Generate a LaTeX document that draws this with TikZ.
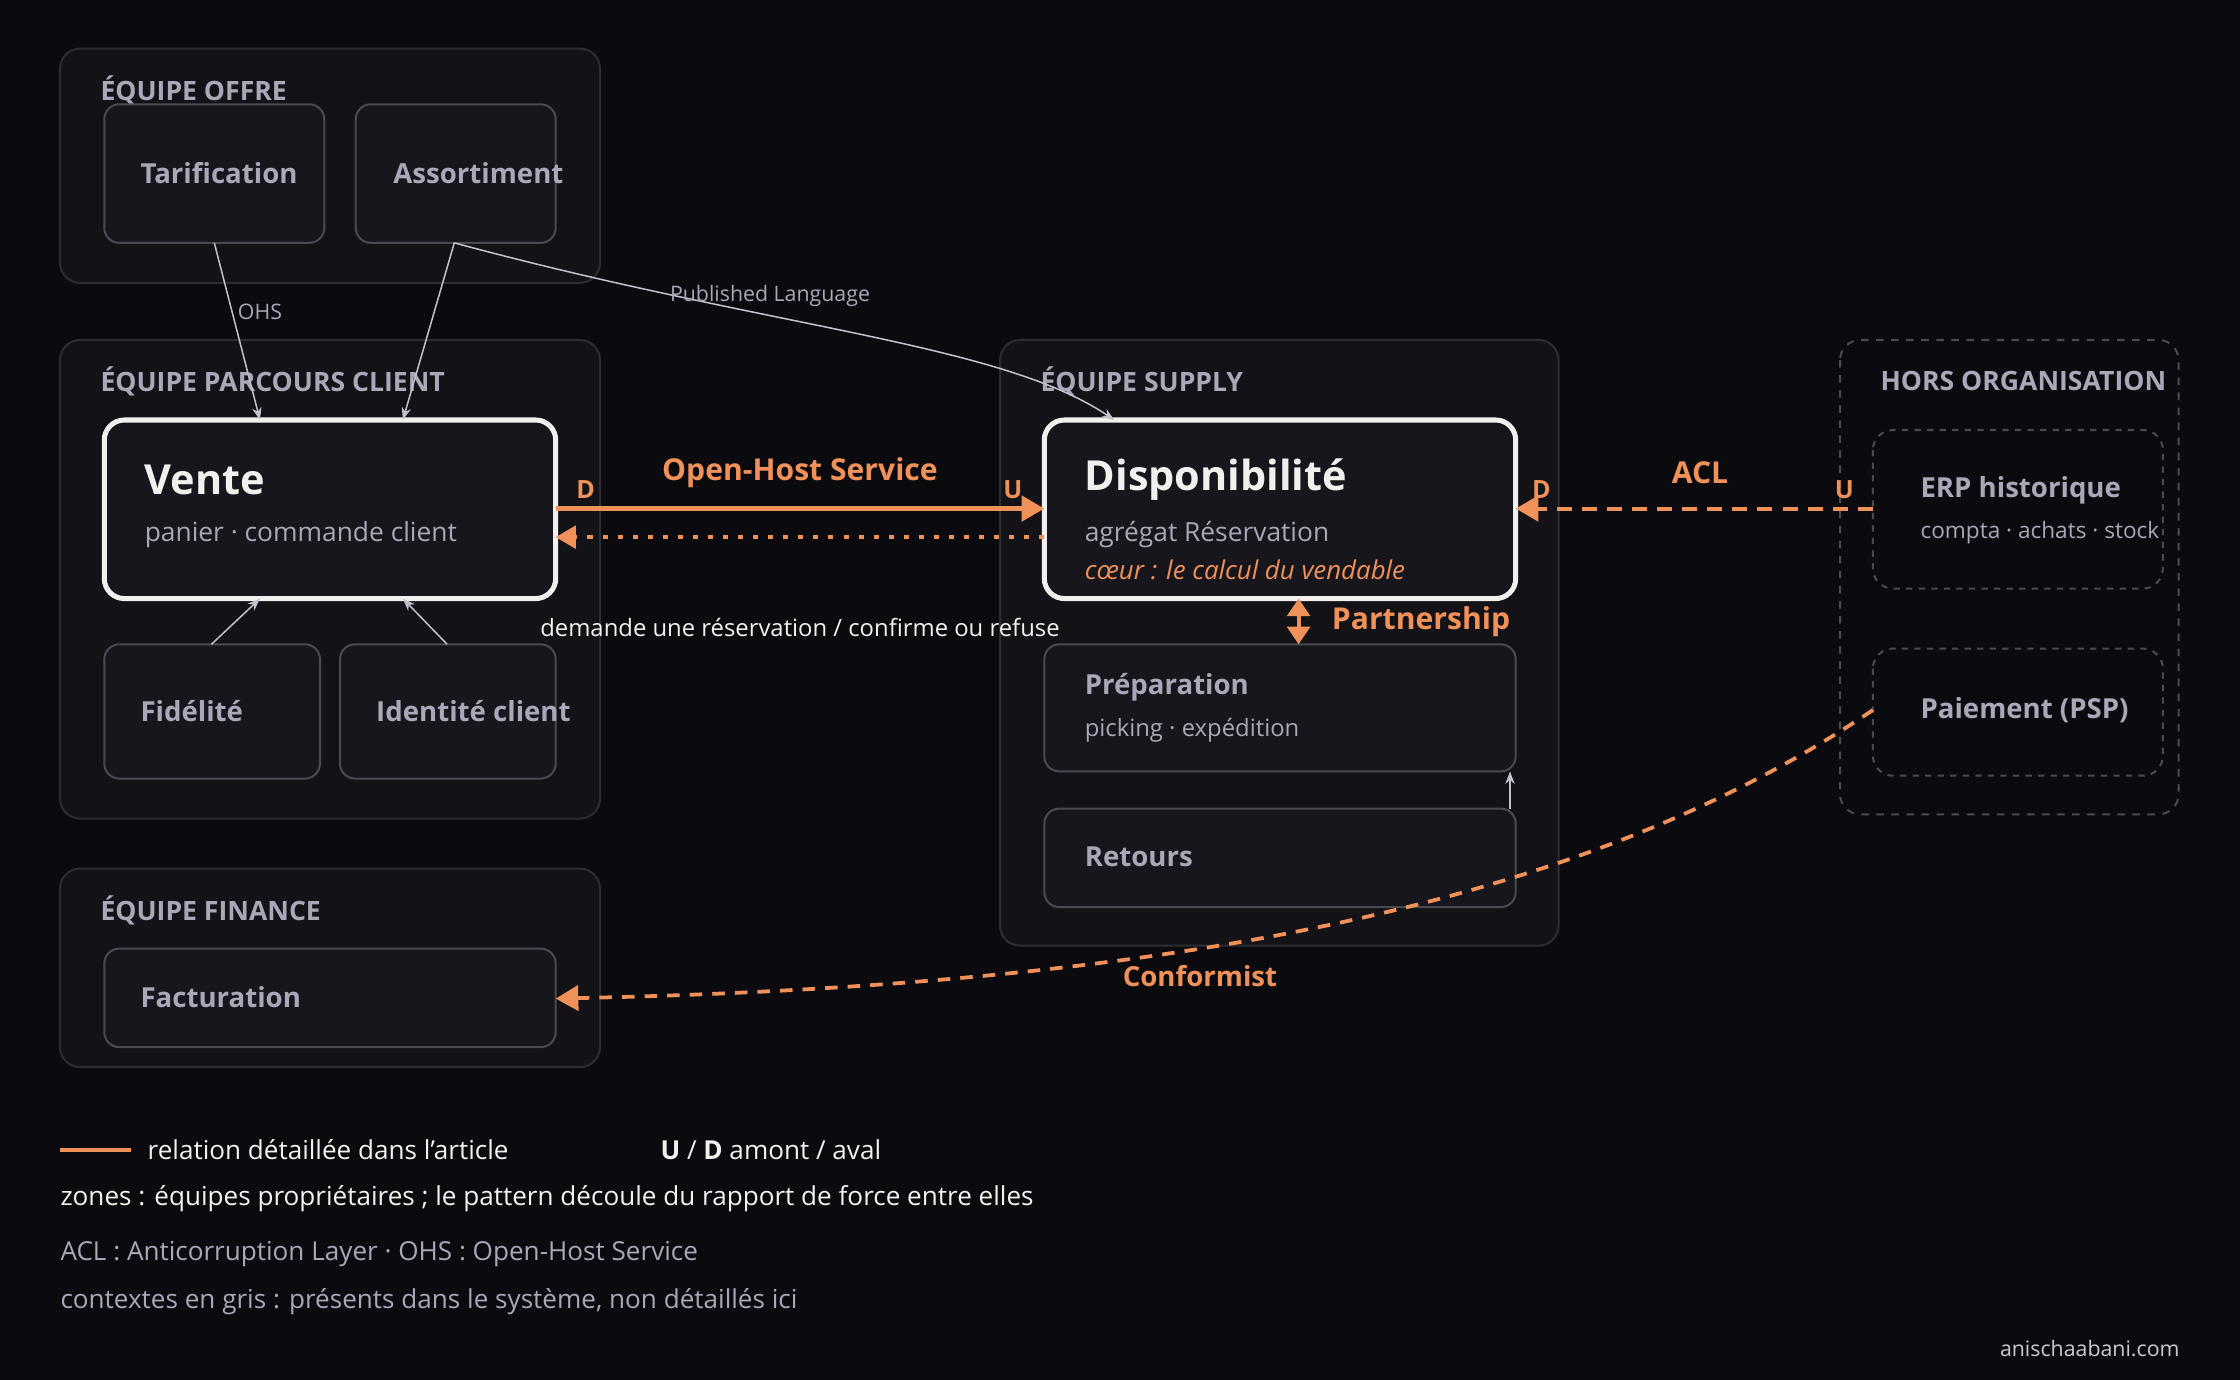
\documentclass[tikz,border=0pt]{standalone}
\usepackage{fontspec}
\setmainfont{Open Sans}
\usetikzlibrary{arrows.meta,positioning}
\definecolor{bgc}{HTML}{0B0B0F}
\definecolor{zonefill}{HTML}{131317}
\definecolor{zoneline}{HTML}{2C2C33}
\definecolor{boxfill}{HTML}{16161C}
\definecolor{boxline}{HTML}{4A4A53}
\definecolor{muted}{HTML}{A9A7B8}
\definecolor{accent}{HTML}{F0915A}
\definecolor{bright}{HTML}{F2F0EC}
\begin{document}
\begin{tikzpicture}[x=0.02cm,y=-0.02cm,inner sep=0pt,
    zone/.style={draw=zoneline,fill=zonefill,rounded corners=8pt,line width=0.8pt},
    ctx/.style={draw=boxline,fill=boxfill,rounded corners=6pt,line width=0.8pt},
    core/.style={draw=bright,fill=boxfill,rounded corners=8pt,line width=2pt},
    ext/.style={draw=boxline,dash pattern=on 3pt off 3pt,rounded corners=8pt,line width=0.8pt},
    zonelabel/.style={anchor=west,font=\bfseries\fontsize{10.6}{12}\selectfont,text=muted},
    ctxlabel/.style={anchor=west,font=\bfseries\fontsize{11}{13}\selectfont,text=muted},
    sublabel/.style={anchor=west,font=\fontsize{9.5}{11}\selectfont,text=muted},
    rel/.style={font=\bfseries\fontsize{12}{14}\selectfont,text=accent},
    tag/.style={font=\bfseries\fontsize{10}{12}\selectfont,text=accent},
    thin link/.style={draw=muted!70,line width=0.6pt,-{Stealth[length=5pt]}},
    small/.style={font=\fontsize{8.5}{10}\selectfont,text=muted},
    legend/.style={anchor=west,font=\fontsize{10.4}{12}\selectfont}]
\fill[bgc] (0,0) rectangle (1568,966);
\useasboundingbox (0,0) rectangle (1568,966);

% zones
\draw[zone] (42,34) rectangle (420,198);
\draw[zone] (42,238) rectangle (420,573);
\draw[zone] (42,608) rectangle (420,747);
\draw[zone] (700,238) rectangle (1091,662);
\draw[ext] (1288,238) rectangle (1525,570);
\node[zonelabel] (zoffre) at (70,63) {ÉQUIPE OFFRE};
\node[zonelabel] (zparcours) at (70,267) {ÉQUIPE PARCOURS CLIENT};
\node[zonelabel] (zfinance) at (70,637) {ÉQUIPE FINANCE};
\node[zonelabel] (zsupply) at (728,267) {ÉQUIPE SUPPLY};
\node[zonelabel] (zhors) at (1316,267) {HORS ORGANISATION};

% contextes
\path[ctx] (73,73) rectangle (227,170);
\node[ctxlabel] at (98,121) {Tarification};
\path[ctx] (249,73) rectangle (389,170);
\node[ctxlabel] at (275,121) {Assortiment};
\path[ctx] (73,451) rectangle (224,545);
\node[ctxlabel] at (98,498) {Fidélité};
\path[ctx] (238,451) rectangle (389,545);
\node[ctxlabel] at (263,498) {Identité client};
\path[ctx] (73,664) rectangle (389,733);
\node[ctxlabel] at (98,698) {Facturation};
\path[ctx] (731,451) rectangle (1061,540);
\node[ctxlabel] at (759,481) {Préparation};
\node[sublabel] at (759,511) {picking · expédition};
\path[ctx] (731,566) rectangle (1061,635);
\node[ctxlabel] at (759,600) {Retours};
\draw[ext,dash pattern=on 2.5pt off 2.5pt] (1311,301) rectangle (1514,412);
\node[ctxlabel] at (1344,343) {ERP historique};
\node[sublabel,font=\fontsize{9}{11}\selectfont] at (1344,373) {compta · achats · stock};
\draw[ext,dash pattern=on 2.5pt off 2.5pt] (1311,454) rectangle (1514,543);
\node[ctxlabel] at (1344,497) {Paiement (PSP)};

% coeurs
\path[core] (73,294) rectangle (389,419);
\node[anchor=west,font=\bfseries\fontsize{16.5}{20}\selectfont,text=bright] at (101,336) {Vente};
\node[sublabel,font=\fontsize{10.5}{12}\selectfont] at (101,374) {panier · commande client};
\path[core] (731,294) rectangle (1061,419);
\node[anchor=west,font=\bfseries\fontsize{16.5}{20}\selectfont,text=bright] at (759,336) {Disponibilité};
\node[sublabel,font=\fontsize{10.5}{12}\selectfont] at (759,374) {agrégat Réservation};
\node[anchor=west,font=\itshape\fontsize{10.3}{12}\selectfont,text=accent] at (759,399) {cœur : le calcul du vendable};

% liens gris
\coordinate (tarB) at (150,170); \coordinate (venTL) at (182,294);
\coordinate (assB) at (318,170); \coordinate (venTR) at (282,294);
\coordinate (disT) at (780,294);
\coordinate (fidT) at (148,451); \coordinate (venBL) at (182,419);
\coordinate (idT) at (313,451); \coordinate (venBR) at (282,419);
\coordinate (retT) at (1057,566); \coordinate (prepB) at (1057,540);
\draw[thin link] (tarB) -- (venTL);
\draw[thin link] (assB) -- (venTR);
\draw[thin link] (assB) .. controls (540,230) and (700,240) .. (disT);
\draw[thin link] (fidT) -- (venBL);
\draw[thin link] (idT) -- (venBR);
\draw[thin link] (retT) -- (prepB);
\node[small] (ohs) at (182,218) {OHS};
\node[small] (pl) at (539,207) {Published Language};

% relations orange
\coordinate (venR1) at (389,356); \coordinate (disL1) at (731,356);
\coordinate (venR2) at (389,376); \coordinate (disL2) at (731,376);
\draw[accent,line width=1.8pt,-{Triangle[length=9pt,width=10pt]}] (venR1) -- (disL1);
\draw[accent,line width=1.4pt,dash pattern=on 2pt off 4pt,-{Triangle[length=8pt,width=9pt]}] (disL2) -- (venR2);
\node[rel] at (560,331) {Open-Host Service};
\node[tag] at (410,343) {D};
\node[tag] at (709,343) {U};
\node[font=\fontsize{9.5}{11}\selectfont,text=bright!90] at (560,439) {demande une réservation / confirme ou refuse};

\coordinate (erpL) at (1311,356); \coordinate (disR) at (1061,356);
\draw[accent,line width=1.6pt,dash pattern=on 6pt off 4pt,-{Triangle[length=9pt,width=10pt]}] (erpL) -- (disR);
\node[rel] at (1190,331) {ACL};
\node[tag] at (1079,343) {D};
\node[tag] at (1291,343) {U};

\coordinate (disB) at (909,419); \coordinate (prepT) at (909,451);
\draw[accent,line width=1.6pt,{Triangle[length=7pt,width=9pt]}-{Triangle[length=7pt,width=9pt]}] (disB) -- (prepT);
\node[rel,anchor=west] at (932,435) {Partnership};

\coordinate (pspL) at (1311,497); \coordinate (factR) at (389,699);
\draw[accent,line width=1.5pt,dash pattern=on 5pt off 4pt,-{Triangle[length=9pt,width=10pt]}] (pspL) .. controls (1100,640) and (800,690) .. (factR);
\node[rel,font=\bfseries\fontsize{11}{13}\selectfont] at (840,683) {Conformist};

% légende
\draw[accent,line width=1.6pt] (42,805) -- (92,805);
\node[legend,text=bright!85] at (103,805) {relation détaillée dans l'article};
\node[legend,text=bright!85] at (462,805) {\textbf{\textcolor{bright}{U}} / \textbf{\textcolor{bright}{D}} amont / aval};
\node[legend,text=bright!85] at (42,839) {zones : équipes propriétaires ; le pattern découle du rapport de force entre elles};
\node[legend,text=muted] at (42,878) {ACL : Anticorruption Layer · OHS : Open-Host Service};
\node[legend,text=muted] at (42,911) {contextes en gris : présents dans le système, non détaillés ici};
\node[anchor=east,font=\fontsize{8.5}{10}\selectfont,text=muted!60] at (1526,944) {anischaabani.com};
\end{tikzpicture}
\end{document}
